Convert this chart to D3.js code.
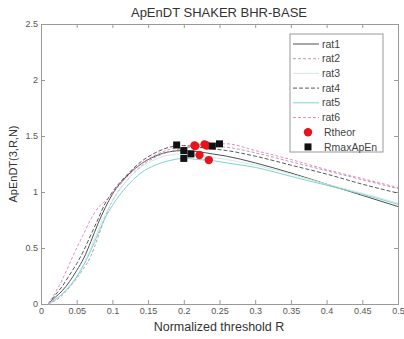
<!DOCTYPE html>
<html>
<head>
<meta charset="utf-8">
<script src="https://cdn.jsdelivr.net/npm/d3@7"></script>
<style>
  body { margin: 0; background: #fff; }
  text { font-family: "Liberation Sans", Arial, sans-serif; }
</style>
</head>
<body>
<div id="app"></div>
<script>
// values
const rVals = [0.01, 0.02, 0.03, 0.04, 0.05, 0.06, 0.07, 0.08, 0.09, 0.1, 0.12, 0.14, 0.16, 0.18, 0.2, 0.22, 0.24, 0.26, 0.3, 0.35, 0.4, 0.45, 0.5];
const rat1 = [0, 0.06, 0.12, 0.2, 0.3, 0.41, 0.56, 0.72, 0.86, 0.98, 1.14, 1.25, 1.32, 1.36, 1.37, 1.36, 1.34, 1.32, 1.26, 1.17, 1.07, 0.97, 0.87];
const rat2 = [0, 0.03, 0.08, 0.15, 0.23, 0.32, 0.43, 0.6, 0.78, 0.92, 1.1, 1.23, 1.31, 1.36, 1.39, 1.405, 1.41, 1.4, 1.35, 1.27, 1.19, 1.11, 1.03];
const rat3 = [0, 0.04, 0.09, 0.16, 0.25, 0.36, 0.5, 0.66, 0.8, 0.92, 1.1, 1.22, 1.29, 1.33, 1.34, 1.33, 1.31, 1.29, 1.24, 1.16, 1.07, 0.99, 0.9];
const rat4 = [0, 0.08, 0.16, 0.26, 0.36, 0.48, 0.62, 0.76, 0.9, 1.0, 1.15, 1.27, 1.35, 1.4, 1.415, 1.4, 1.385, 1.37, 1.32, 1.24, 1.16, 1.07, 0.99];
const rat5 = [0, 0.04, 0.09, 0.16, 0.24, 0.35, 0.48, 0.63, 0.77, 0.88, 1.05, 1.17, 1.24, 1.28, 1.3, 1.29, 1.28, 1.26, 1.22, 1.14, 1.06, 0.98, 0.89];
const rat6 = [0, 0.1, 0.22, 0.36, 0.5, 0.63, 0.76, 0.86, 0.92, 0.99, 1.13, 1.25, 1.33, 1.38, 1.4, 1.42, 1.43, 1.43, 1.37, 1.29, 1.2, 1.12, 1.04];

const rTheorX = [0.215, 0.229, 0.232, 0.222, 0.235, 0.216];
const rTheorY = [1.415, 1.425, 1.415, 1.33, 1.285, 1.41];
const rMaxX = [0.19, 0.2, 0.2, 0.21, 0.24, 0.25];
const rMaxY = [1.42, 1.37, 1.3, 1.34, 1.41, 1.43];

const xTicks = [0, 0.05, 0.1, 0.15, 0.2, 0.25, 0.3, 0.35, 0.4, 0.45, 0.5];
const xTickLabels = ["0", "0.05", "0.1", "0.15", "0.2", "0.25", "0.3", "0.35", "0.4", "0.45", "0.5"];
const yTicks = [0, 0.5, 1, 1.5, 2, 2.5];
const yTickLabels = ["0", "0.5", "1", "1.5", "2", "2.5"];

const seriesNames = ["rat1", "rat2", "rat3", "rat4", "rat5", "rat6"];
const seriesData = [rat1, rat2, rat3, rat4, rat5, rat6];

const draw = () => {
    const width = 404;
    const height = 339;
    const left = 41, right = 398, top = 24, bottom = 304;

    const svg = d3.select('#app')
        .append('svg')
        .attr('width', width)
        .attr('height', height);

    const x = d3.scaleLinear().domain([0, 0.5]).range([left, right]);
    const y = d3.scaleLinear().domain([0, 2.5]).range([bottom, top]);

    const styles = [
        { color: '#505050', dash: null },
        { color: '#b89cb4', dash: '3,2' },
        { color: '#d6e6e6', dash: null },
        { color: '#5a5a5a', dash: '4,2' },
        { color: '#78d6d2', dash: null },
        { color: '#e48cc4', dash: '3,2' }
    ];

    // axes, ticks point inward like matlab
    const axisColor = '#999';
    const labelColor = '#555';

    const fmtX = d => xTickLabels[xTicks.indexOf(d)];
    const fmtY = d => yTickLabels[yTicks.indexOf(d)];

    const gx = svg.append('g')
        .attr('transform', 'translate(0,' + bottom + ')')
        .call(d3.axisBottom(x).tickValues(xTicks).tickFormat(fmtX).tickSize(-4).tickPadding(5));
    const gxTop = svg.append('g')
        .attr('transform', 'translate(0,' + top + ')')
        .call(d3.axisTop(x).tickValues(xTicks).tickFormat('').tickSize(-4));
    const gy = svg.append('g')
        .attr('transform', 'translate(' + left + ',0)')
        .call(d3.axisLeft(y).tickValues(yTicks).tickFormat(fmtY).tickSize(-4).tickPadding(3));
    const gyRight = svg.append('g')
        .attr('transform', 'translate(' + right + ',0)')
        .call(d3.axisRight(y).tickValues(yTicks).tickFormat('').tickSize(-4));

    [gx, gxTop, gy, gyRight].forEach(g => {
        g.selectAll('path').attr('stroke', axisColor);
        g.selectAll('line').attr('stroke', axisColor);
        g.selectAll('text')
            .attr('fill', labelColor)
            .style('font-size', '9px');
    });
    gx.selectAll('text').attr('dy', '0.6em');

    const line = d3.line()
        .x((d, i) => x(rVals[i]))
        .y(d => y(d))
        .curve(d3.curveMonotoneX);

    const plot = svg.append('g');

    seriesData.forEach((s, i) => {
        plot.append('path')
            .datum(s)
            .attr('d', line)
            .attr('fill', 'none')
            .attr('stroke', styles[i].color)
            .attr('stroke-width', 1)
            .attr('stroke-dasharray', styles[i].dash);
    });

    plot.selectAll('circle.theor')
        .data(rTheorX)
        .enter()
        .append('circle')
        .attr('class', 'theor')
        .attr('cx', d => x(d))
        .attr('cy', (d, i) => y(rTheorY[i]))
        .attr('r', 4.2)
        .attr('fill', '#e8141c');

    plot.selectAll('rect.rmax')
        .data(rMaxX)
        .enter()
        .append('rect')
        .attr('class', 'rmax')
        .attr('x', d => x(d) - 3.5)
        .attr('y', (d, i) => y(rMaxY[i]) - 3.5)
        .attr('width', 7)
        .attr('height', 7)
        .attr('fill', '#111');

    // legend
    const legend = svg.append('g').attr('transform', 'translate(290,34)');
    legend.append('rect')
        .attr('width', 93)
        .attr('height', 118)
        .attr('fill', '#fff')
        .attr('stroke', axisColor);

    const rowH = 14.7;
    const entries = seriesNames.concat(['Rtheor', 'RmaxApEn']);
    entries.forEach((name, i) => {
        const cy = 10 + i * rowH;
        if (i < 6) {
            legend.append('line')
                .attr('x1', 3).attr('x2', 29)
                .attr('y1', cy).attr('y2', cy)
                .attr('stroke', styles[i].color)
                .attr('stroke-dasharray', styles[i].dash);
        } else if (name === 'Rtheor') {
            legend.append('circle')
                .attr('cx', 18).attr('cy', cy).attr('r', 4.2)
                .attr('fill', '#e8141c');
        } else {
            legend.append('rect')
                .attr('x', 14.5).attr('y', cy - 3.5)
                .attr('width', 7).attr('height', 7)
                .attr('fill', '#111');
        }
        legend.append('text')
            .attr('x', i >= 6 ? 34 : 32)
            .attr('y', cy)
            .attr('dy', '0.35em')
            .attr('fill', '#444')
            .style('font-size', '10.5px')
            .text(name);
    });

    svg.append('text')
        .attr('x', 219)
        .attr('y', 17)
        .attr('text-anchor', 'middle')
        .attr('fill', '#333')
        .style('font-size', '13px')
        .text('ApEnDT SHAKER BHR-BASE');

    svg.append('text')
        .attr('x', 219)
        .attr('y', 331)
        .attr('text-anchor', 'middle')
        .attr('fill', '#333')
        .style('font-size', '12.5px')
        .text('Normalized threshold R');

    svg.append('text')
        .attr('transform', 'translate(17,164) rotate(-90)')
        .attr('text-anchor', 'middle')
        .attr('fill', '#333')
        .style('font-size', '11px')
        .text('ApEnDT(3,R,N)');
};

draw();
</script>
</body>
</html>
